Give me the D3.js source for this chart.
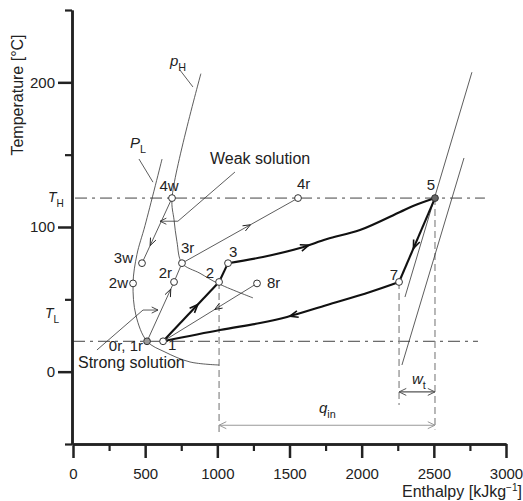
<!DOCTYPE html>
<html>
<head>
<meta charset="utf-8">
<script src="https://cdn.jsdelivr.net/npm/d3@7"></script>
<style>
  body { margin: 0; background: #fff; }
  svg { font-family: "Liberation Sans", Arial, sans-serif; }
</style>
</head>
<body>
<svg id="chart" width="523" height="501"></svg>
<script>
// axis ticks
const xTicksMajor = [0, 500, 1000, 1500, 2000, 2500, 3000];
const xTicksMinor = [250, 750, 1250, 1750, 2250, 2750];
const yTicksMajor = [0, 100, 200];
const yTicksMinor = [-50, 50, 150, 250];
const T_H = 120, T_L = 21;

// state points (enthalpy kJ/kg, temperature C)
const pointNames = ['0r, 1r', '1', '2', '3', '2r', '3r', '2w', '3w', '4w', '4r', '5', '7', '8r'];
const pointH = [513, 624, 1012, 1074, 700, 755, 416, 478, 686, 1559, 2508, 2259, 1275];
const pointT = [21, 21, 62, 75, 62, 75, 61, 75, 120, 120, 120, 62, 61];

// isobars / property lines
const curvePH = [[886, 206], [686, 120], [700, 105], [720, 90], [755, 75], [880, 68], [1004, 61], [1247, 51]];
const curvePL = [[617, 147], [499, 101], [443, 81], [416, 61], [436, 39], [513, 21], [637, 13.6], [811, 6.7], [1012, 4.6]];
const steamHigh = [[2764, 207], [2300, 51.6]];
const steamLow = [[2709, 147.7], [2279, 4.6]];

// cycle (thick)
const cycle12 = [[624, 21], [1012, 62]];
const cycle23 = [[1012, 62], [1074, 75]];
const cycle35 = [[1074, 75], [1316, 79.3], [1573, 85.5], [1760, 91.7], [1988, 97.9], [2266, 110.4], [2356, 114.5], [2508, 120]];
const cycle57 = [[2508, 120], [2259, 62]];
const cycle71 = [[2259, 62], [2058, 55.1], [1760, 46.1], [1483, 37.8], [1296, 33.6], [1018, 28.8], [624, 21]];

// solution paths (thin)
const weak4w3w = [[686, 120], [478, 75]];
const strong0r2r = [[513, 21], [700, 62]];
const strong2r3r = [[700, 62], [755, 75]];
const strong3r4r = [[755, 75], [1559, 120]];
const return8r1 = [[1275, 61], [624, 21]];

// leaders
const leaderPH = [[741, 208.5], [831, 196.8]];
const leaderPL = [[457, 147], [554, 131]];
const leaderWeak = [[1122, 138], [727, 104], [603, 104]];
const leaderStrong = [[166, 15], [485, 42.6], [589, 42.6]];

// dimension lines
const dropLines = [[1012, 62, -42], [2508, 120, -40], [2259, 62, -23]];
const qinSpan = [1012, 2508], qinT = -37;
const wtSpan = [2259, 2508], wtT = -14;

const svg = d3.select('#chart');
const x = d3.scaleLinear().domain([0, 3000]).range([73, 506]);
const y = d3.scaleLinear().domain([-50, 250]).range([444, 10]);
const line = d3.line().x(d => x(d[0])).y(d => y(d[1]));
const smooth = d3.line().x(d => x(d[0])).y(d => y(d[1])).curve(d3.curveCatmullRom.alpha(0.5));

function chevron(g, px, py, ang, len, spread, color, width) {
    const a1 = ang + Math.PI - spread, a2 = ang + Math.PI + spread;
    g.append('path')
        .attr('d', `M${px + len * Math.cos(a1)},${py + len * Math.sin(a1)}L${px},${py}L${px + len * Math.cos(a2)},${py + len * Math.sin(a2)}`)
        .attr('fill', 'none').attr('stroke', color).attr('stroke-width', width);
}

function arrowOn(node, at, color, width, len) {
    const L = node.getTotalLength();
    const p = node.getPointAtLength(at * L);
    const q = node.getPointAtLength(Math.max(0, at * L - 1));
    chevron(svg, p.x, p.y, Math.atan2(p.y - q.y, p.x - q.x), len, 0.38, color, width);
}

// TH / TL dash-dot
[[T_H, 14, 2854], [T_L, 0, 2806]].forEach(([t, h0, h1]) => {
    svg.append('line')
        .attr('x1', x(h0)).attr('x2', x(h1)).attr('y1', y(t)).attr('y2', y(t))
        .attr('stroke', '#444').attr('stroke-width', 1)
        .attr('stroke-dasharray', '12,5,3,5');
});

// gray dashed drop lines
dropLines.forEach(([h, t0, t1]) => {
    svg.append('line')
        .attr('x1', x(h)).attr('x2', x(h)).attr('y1', y(t0)).attr('y2', y(t1))
        .attr('stroke', '#888').attr('stroke-width', 1.2)
        .attr('stroke-dasharray', '7,4');
});

// qin and wt dimension arrows
[[qinSpan, qinT, '#999'], [wtSpan, wtT, '#555']].forEach(([span, t, c]) => {
    const x0 = x(span[0]), x1 = x(span[1]), yy = y(t);
    svg.append('line').attr('x1', x0).attr('x2', x1).attr('y1', yy).attr('y2', yy)
        .attr('stroke', c).attr('stroke-width', 1.1);
    chevron(svg, x0, yy, Math.PI, 8, 0.45, c, 1);
    chevron(svg, x1, yy, 0, 8, 0.45, c, 1);
});

// thin property lines
const thin = { stroke: '#333', width: 0.8 };
[[curvePH, smooth], [curvePL, smooth], [steamHigh, line], [steamLow, line],
 [leaderPH, line], [leaderPL, line]].forEach(([pts, gen]) => {
    svg.append('path').attr('d', gen(pts)).attr('fill', 'none')
        .attr('stroke', thin.stroke).attr('stroke-width', thin.width);
});

// leaders with arrowheads
[leaderWeak, leaderStrong].forEach(pts => {
    svg.append('path').attr('d', line(pts)).attr('fill', 'none')
        .attr('stroke', '#333').attr('stroke-width', 0.8);
    const a = pts[pts.length - 2], b = pts[pts.length - 1];
    const ang = Math.atan2(y(b[1]) - y(a[1]), x(b[0]) - x(a[0]));
    chevron(svg, x(b[0]), y(b[1]), ang, 7, 0.45, '#333', 0.9);
});

// solution paths
const thinPaths = [
    [weak4w3w, 0.73], [strong0r2r, 0.88], [strong2r3r, null], [strong3r4r, 0.59], [return8r1, 0.45]
];
thinPaths.forEach(([pts, at]) => {
    const p = svg.append('path').attr('d', line(pts)).attr('fill', 'none')
        .attr('stroke', '#333').attr('stroke-width', 0.8);
    if (at !== null) arrowOn(p.node(), at, '#222', 1, 8);
});

// thick cycle
const thickPaths = [
    [cycle12, line, 0.62], [cycle23, line, null], [cycle35, smooth, 0.38],
    [cycle57, line, 0.6], [cycle71, smooth, 0.47]
];
thickPaths.forEach(([pts, gen, at]) => {
    const p = svg.append('path').attr('d', gen(pts)).attr('fill', 'none')
        .attr('stroke', '#111').attr('stroke-width', 2.1).attr('stroke-linejoin', 'round');
    if (at !== null) arrowOn(p.node(), at, '#111', 1.6, 9);
});

// state points
const labelPos = {
    '0r, 1r': [-4, 10, 'end'], '1': [5, 9, 'start'], '2': [-5, -4, 'end'], '3': [1, -6, 'start'],
    '2r': [-2, -4, 'end'], '3r': [-1, -10, 'start'], '2w': [-5, 5, 'end'], '3w': [-9, 0, 'end'],
    '4w': [-3, -7, 'middle'], '4r': [-1, -9, 'start'], '5': [0, -8, 'end'], '7': [-1, -2, 'end'],
    '8r': [10, 5, 'start']
};
const fills = { '5': '#666', '0r, 1r': '#999' };
pointNames.forEach((name, i) => {
    const px = x(pointH[i]), py = y(pointT[i]);
    svg.append('circle').attr('cx', px).attr('cy', py).attr('r', 3.4)
        .attr('fill', fills[name] || '#fff').attr('stroke', '#333').attr('stroke-width', 1);
    const [dx, dy, anchor] = labelPos[name];
    svg.append('text').attr('x', px + dx).attr('y', py + dy)
        .attr('text-anchor', anchor).attr('font-size', 15).attr('fill', '#222').text(name);
});

// axes
function styleAxis(g, w) {
    g.select('.domain').attr('stroke', '#222').attr('stroke-width', 2.5);
    g.selectAll('.tick line').attr('stroke', '#222').attr('stroke-width', w);
    g.selectAll('.tick text').attr('font-size', 15).attr('fill', '#222')
        .attr('font-family', '"Liberation Sans", Arial, sans-serif');
}
const yMinor = svg.append('g').attr('transform', 'translate(72,0)')
    .call(d3.axisLeft(y).tickValues(yTicksMinor).tickSize(7).tickSizeOuter(0).tickFormat(''));
styleAxis(yMinor, 2.2);
const yMajor = svg.append('g').attr('transform', 'translate(72,0)')
    .call(d3.axisLeft(y).tickValues(yTicksMajor).tickSize(14).tickPadding(3).tickSizeOuter(0).tickFormat(d3.format('d')));
styleAxis(yMajor, 2.5);
const xMinor = svg.append('g').attr('transform', 'translate(0,444)')
    .call(d3.axisBottom(x).tickValues(xTicksMinor).tickSize(7).tickSizeOuter(0).tickFormat(''));
styleAxis(xMinor, 2.2);
const xMajor = svg.append('g').attr('transform', 'translate(0,444)')
    .call(d3.axisBottom(x).tickValues(xTicksMajor).tickSize(14).tickPadding(10).tickSizeOuter(0).tickFormat(d3.format('d')));
styleAxis(xMajor, 2.5);

// axis titles
svg.append('text').attr('transform', 'translate(23,95) rotate(-90)')
    .attr('text-anchor', 'middle').attr('font-size', 16).attr('fill', '#222')
    .text('Temperature [°C]');
const xt = svg.append('text').attr('x', 402).attr('y', 497).attr('font-size', 16).attr('fill', '#222');
xt.append('tspan').text('Enthalpy [kJkg');
xt.append('tspan').attr('font-size', 10).attr('dy', -6).text('−1');
xt.append('tspan').attr('dy', 6).text(']');

// annotations with subscripts
function subLabel(px, py, main, sub, size, italic) {
    const t = svg.append('text').attr('x', px).attr('y', py).attr('font-size', size).attr('fill', '#222');
    t.append('tspan').attr('font-style', italic ? 'italic' : 'normal').text(main);
    t.append('tspan').attr('font-size', size * 0.72).attr('dy', 5).text(sub);
}
subLabel(48, 202, 'T', 'H', 14, true);
subLabel(45, 318, 'T', 'L', 14, true);
subLabel(170, 66, 'p', 'H', 15, true);
subLabel(130, 148, 'P', 'L', 15, true);
subLabel(319, 413, 'q', 'in', 15, true);
subLabel(412, 384, 'w', 't', 15, true);

svg.append('text').attr('x', 210).attr('y', 164).attr('font-size', 16).attr('fill', '#222').text('Weak solution');
svg.append('text').attr('x', 78).attr('y', 368).attr('font-size', 16).attr('fill', '#222').text('Strong solution');
</script>
</body>
</html>
